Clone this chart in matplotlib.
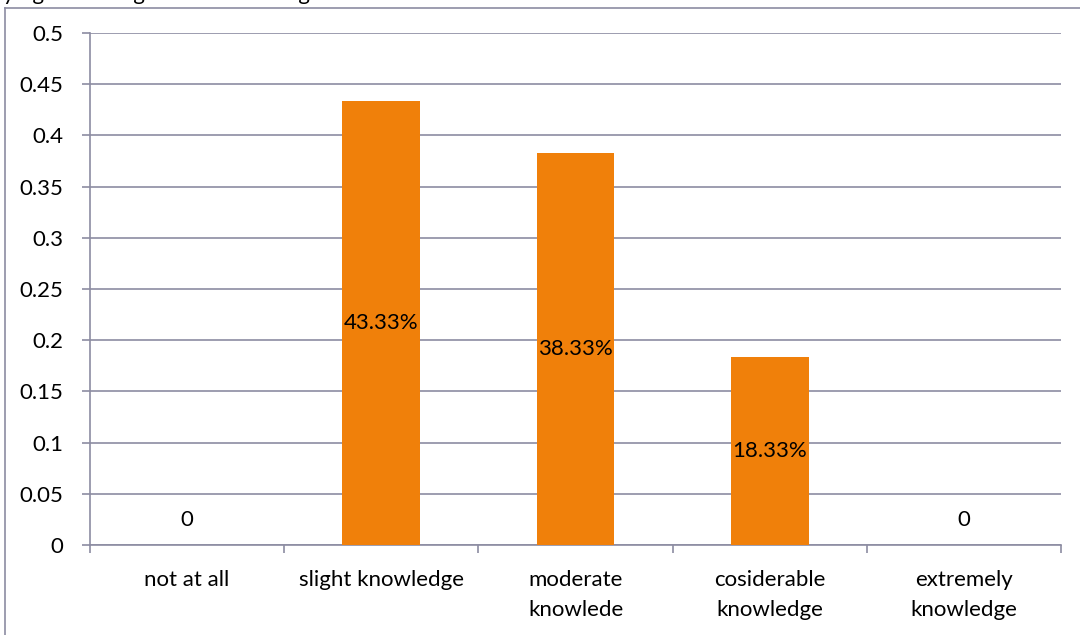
import matplotlib
matplotlib.use("Agg")
import matplotlib.pyplot as plt
from matplotlib.lines import Line2D

categories = ["not at all", "slight knowledge", "moderate\nknowlede",
              "cosiderable\nknowledge", "extremely\nknowledge"]
values = [0.0, 0.4333, 0.3833, 0.1833, 0.0]
value_labels = ["0", "43.33%", "38.33%", "18.33%", "0"]
yticks = [0, 0.05, 0.1, 0.15, 0.2, 0.25, 0.3, 0.35, 0.4, 0.45, 0.5]
ytick_labels = ["0", "0.05", "0.1", "0.15", "0.2", "0.25", "0.3", "0.35", "0.4", "0.45", "0.5"]
title_fragment = "ying knowledge of the teaching"

W, H = 1080, 635
plt.rcParams['font.family'] = ['Lato', 'DejaVu Sans']
fig = plt.figure(figsize=(W / 100, H / 100), dpi=100)

grid_c = "#8c8ca2"
bar_c = "#f0800a"
fs = 16

# outer chart frame (left & top edges visible)
fig.add_artist(Line2D([5 / W, 5 / W], [0, 1 - 8 / H], transform=fig.transFigure, color=grid_c, lw=1.2))
fig.add_artist(Line2D([5 / W, 1], [1 - 8 / H, 1 - 8 / H], transform=fig.transFigure, color=grid_c, lw=1.2))

# title fragment, cut at the top edge as in the reference
fig.text(3 / W, 1 + 0.5 / H, title_fragment, fontsize=fs, ha="left", va="baseline", color="black")

left, right, top, bottom = 90, 1061, 33, 545
ax = fig.add_axes([left / W, 1 - bottom / H, (right - left) / W, (bottom - top) / H])

x = list(range(len(categories)))
ax.bar(x, values, width=0.40, color=bar_c, zorder=3)
ax.set_xlim(-0.5, len(categories) - 0.5)
ax.set_ylim(0, 0.5)
ax.set_yticks(yticks)
ax.set_yticklabels(ytick_labels, fontsize=fs)
ax.yaxis.grid(True, color=grid_c, lw=1.2, zorder=0)
ax.set_xticks(x)
ax.set_xticklabels(categories, fontsize=fs, linespacing=1.6)
ax.set_xticks([i - 0.5 for i in range(len(categories) + 1)], minor=True)
ax.tick_params(axis="x", which="major", length=0, pad=18)
ax.tick_params(axis="x", which="minor", length=6, color=grid_c, width=1.2)
ax.tick_params(axis="y", length=6, color=grid_c, width=1.2, pad=13)
for s in ["top", "right"]:
    ax.spines[s].set_visible(False)
ax.spines["left"].set_color(grid_c)
ax.spines["bottom"].set_color(grid_c)
ax.spines["left"].set_linewidth(1.2)
ax.spines["bottom"].set_linewidth(1.2)

for xi, v, lab in zip(x, values, value_labels):
    if v > 0:
        ax.text(xi, v / 2, lab, ha="center", va="center", fontsize=fs, zorder=4)
    else:
        ax.text(xi, 0.024, lab, ha="center", va="center", fontsize=fs, zorder=4)

fig.savefig("out.png", dpi=100)
